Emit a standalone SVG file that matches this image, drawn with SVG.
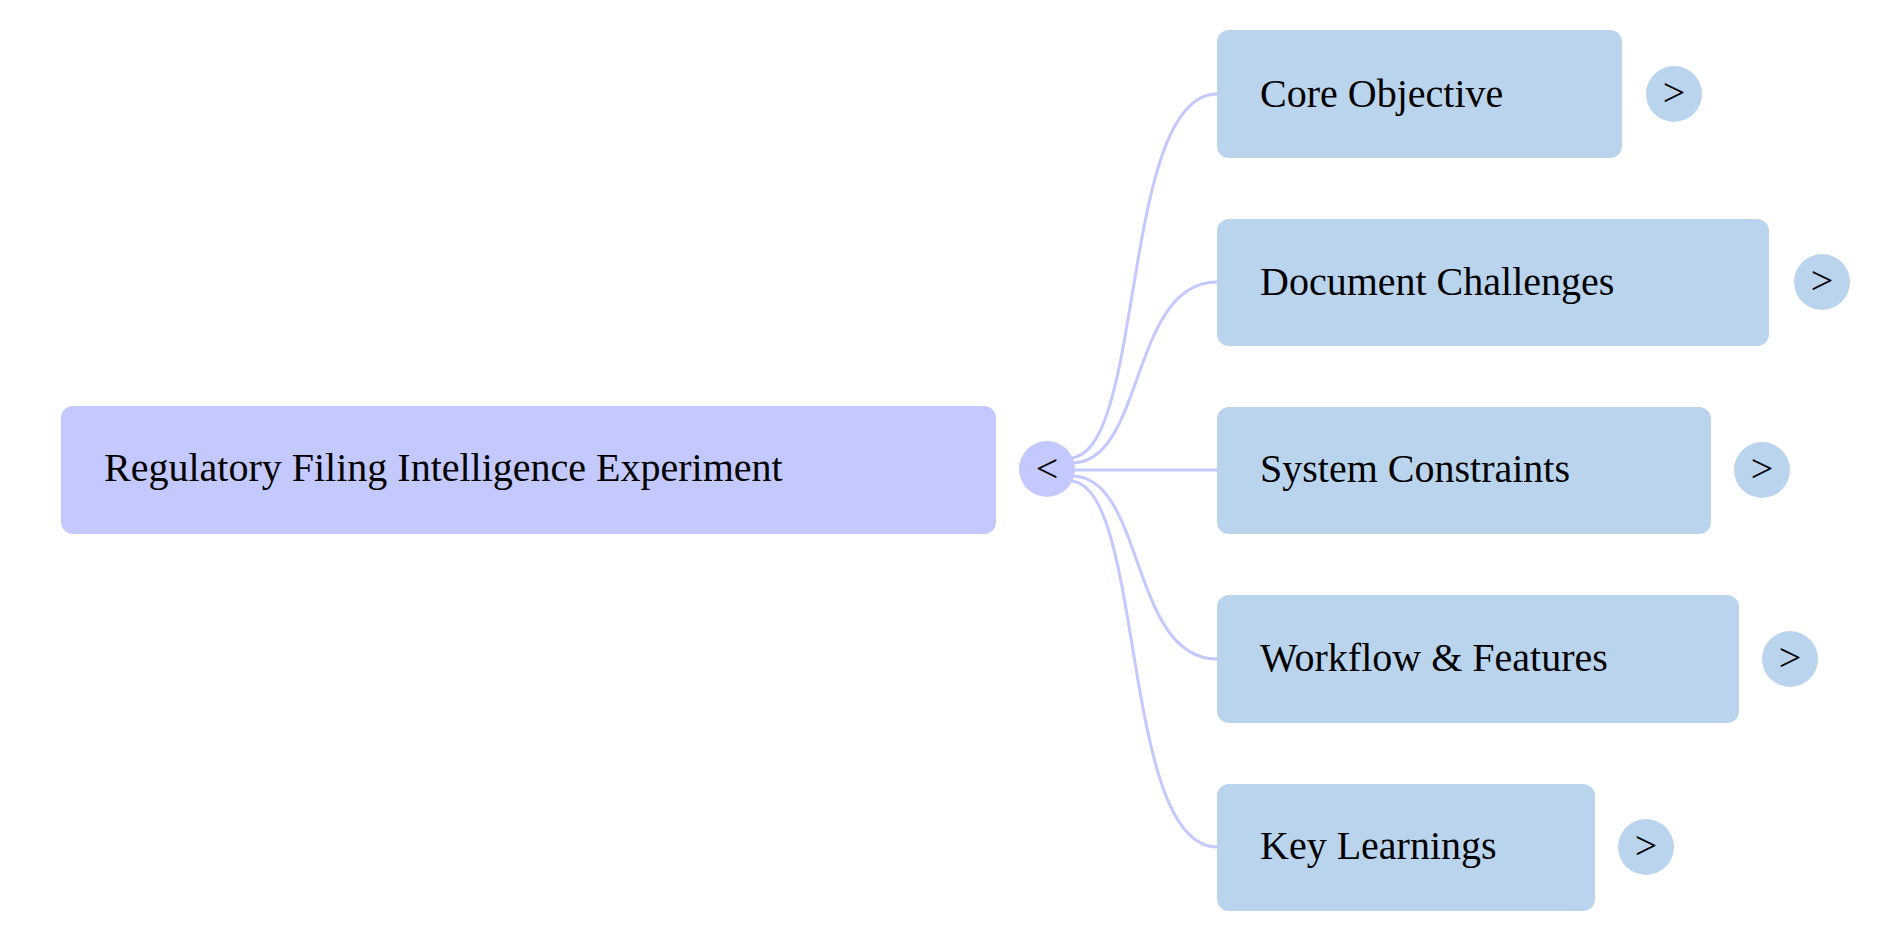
<svg xmlns="http://www.w3.org/2000/svg" width="1901" height="937" viewBox="0 0 1901 937">
<style>
.t{font-family:"Liberation Serif","Times New Roman",serif;font-size:40px;fill:#000}
.root{fill:#c3c9fd}
.child{fill:#bbd4ee}
.c{fill:none;stroke:#c3c9fd;stroke-width:3}
</style>
<rect width="1901" height="937" fill="#fff"/>
<g id="connectors">
<path class="c" d="M1070,458 C1145,458 1120,94 1217,94"/>
<path class="c" d="M1072,463 C1145,463 1130,282 1217,282"/>
<path class="c" d="M1075,470 L1217,470"/>
<path class="c" d="M1072,476 C1145,476 1130,659 1217,659"/>
<path class="c" d="M1070,481 C1145,481 1120,847 1217,847"/>
</g>
<g id="root">
<rect class="root" x="61" y="406" width="935" height="128" rx="12"/>
<text class="t" x="104" y="481">Regulatory Filing Intelligence Experiment</text>
<circle class="root" cx="1047" cy="469" r="28"/>
<text class="t" x="1047" y="482" text-anchor="middle">&lt;</text>
</g>
<g id="n1">
<rect class="child" x="1217" y="30" width="405" height="128" rx="12"/>
<text class="t" x="1260" y="107">Core Objective</text>
<circle class="child" cx="1674" cy="94" r="28"/>
<text class="t" x="1674" y="106" text-anchor="middle">&gt;</text>
</g>
<g id="n2">
<rect class="child" x="1217" y="219" width="552" height="127" rx="12"/>
<text class="t" x="1260" y="295">Document Challenges</text>
<circle class="child" cx="1822" cy="282" r="28"/>
<text class="t" x="1822" y="294" text-anchor="middle">&gt;</text>
</g>
<g id="n3">
<rect class="child" x="1217" y="407" width="494" height="127" rx="12"/>
<text class="t" x="1260" y="482">System Constraints</text>
<circle class="child" cx="1762" cy="470" r="28"/>
<text class="t" x="1762" y="482" text-anchor="middle">&gt;</text>
</g>
<g id="n4">
<rect class="child" x="1217" y="595" width="522" height="128" rx="12"/>
<text class="t" x="1260" y="671">Workflow &amp; Features</text>
<circle class="child" cx="1790" cy="659" r="28"/>
<text class="t" x="1790" y="671" text-anchor="middle">&gt;</text>
</g>
<g id="n5">
<rect class="child" x="1217" y="784" width="378" height="127" rx="12"/>
<text class="t" x="1260" y="859">Key Learnings</text>
<circle class="child" cx="1646" cy="847" r="28"/>
<text class="t" x="1646" y="859" text-anchor="middle">&gt;</text>
</g>
</svg>
